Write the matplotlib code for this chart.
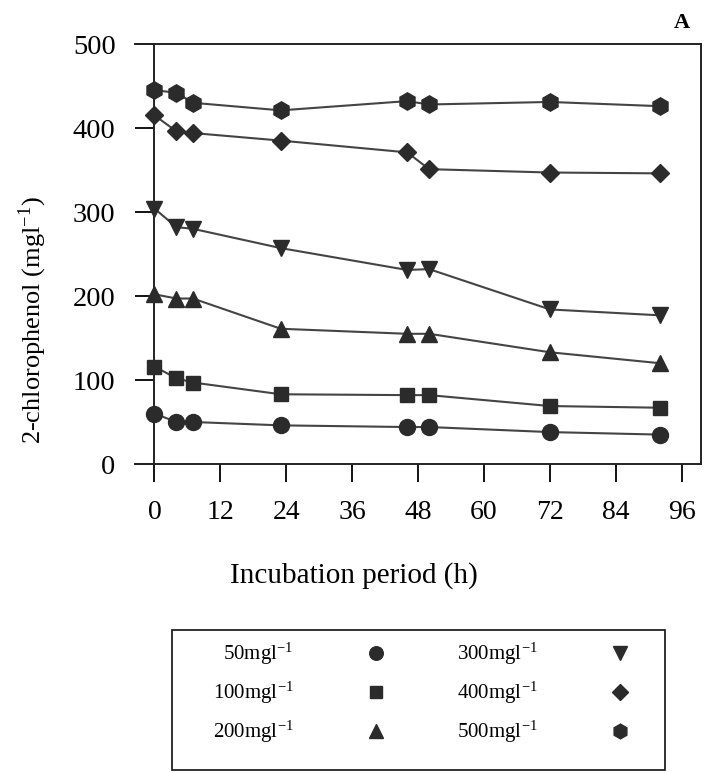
import matplotlib
matplotlib.use("Agg")
import matplotlib.pyplot as plt
from matplotlib.lines import Line2D
from matplotlib.patches import Rectangle

plt.rcParams['font.family'] = ['Liberation Serif', 'DejaVu Serif']
plt.rcParams['mathtext.fontset'] = 'stix'

hours = [0, 4, 7, 23, 46, 50, 72, 92]
c50 = [60, 50, 50, 46, 44, 44, 38, 35]
c100 = [116, 102, 97, 83, 82, 82, 69, 67]
c200 = [202, 197, 197, 161, 155, 155, 133, 120]
c300 = [304, 282, 280, 257, 231, 232, 184, 177]
c400 = [415, 396, 394, 385, 371, 351, 347, 346]
c500 = [445, 442, 430, 421, 432, 428, 431, 426]

series = [c50, c100, c200, c300, c400, c500]
labels = ["50mgl$^{\\mathregular{-1}}$", "100mgl$^{\\mathregular{-1}}$", "200mgl$^{\\mathregular{-1}}$",
          "300mgl$^{\\mathregular{-1}}$", "400mgl$^{\\mathregular{-1}}$", "500mgl$^{\\mathregular{-1}}$"]
markers = ['o', 's', '^', 'v', 'D', 'h']
msizes = [11.5, 10.5, 12, 12, 9, 12.5]

xticks = [0, 12, 24, 36, 48, 60, 72, 84, 96]
yticks = [0, 100, 200, 300, 400, 500]

W, H = 707, 773
fig = plt.figure(figsize=(W/100, H/100), dpi=100)
ax = fig.add_axes([135/W, (H-464)/H, 566/W, 420/H])

dark = '#2b2b2b'
for vals, m, ms in zip(series, markers, msizes):
    ax.plot(hours, vals, color='#444444', lw=1.5, marker=m, ms=ms,
            mfc=dark, mec=dark, zorder=3, clip_on=False)

ax.set_xlim(-3.55, 99.5)
ax.set_ylim(0, 500)
ax.spines['left'].set_position(('data', 0))
for s in ax.spines.values():
    s.set_linewidth(1.4)
    s.set_color('#222222')
ax.set_xticks(xticks)
ax.set_yticks(yticks)
ax.tick_params(axis='x', direction='out', length=13, width=1.3, labelsize=20, pad=13)
ax.tick_params(axis='y', direction='out', length=14, width=1.3, labelsize=20.5, pad=14)

fig.text(33/W, 1-320/H, "2-chlorophenol (mgl$^{\\mathregular{-1}}$)", rotation=90,
         ha='center', va='center', fontsize=19)
fig.text(354/W, 1-576/H, "Incubation period (h)", ha='center', va='center', fontsize=21)
fig.text(682/W, 1-23/H, "A", ha='center', va='center', fontsize=16, fontweight='bold')

handles = [Line2D([], [], linestyle='none', marker=m, ms=ms*0.85, mfc=dark, mec=dark)
           for m, ms in zip(markers, msizes)]
common = dict(markerfirst=False, loc='upper left', fontsize=15, frameon=False,
              handletextpad=3.45, labelspacing=0.6, borderpad=0, borderaxespad=0,
              handlelength=1.0)
leg1 = fig.legend(handles[:3], labels[:3], bbox_to_anchor=(213/W, 1-641/H), **common)
leg2 = fig.legend(handles[3:], labels[3:], bbox_to_anchor=(457/W, 1-641/H), **common)
fig.add_artist(Rectangle((172/W, 1-770/H), (665-172)/W, (770-630)/H,
                         transform=fig.transFigure, fill=False, lw=1.3, edgecolor='#222222'))

fig.savefig("out.png", dpi=100)
